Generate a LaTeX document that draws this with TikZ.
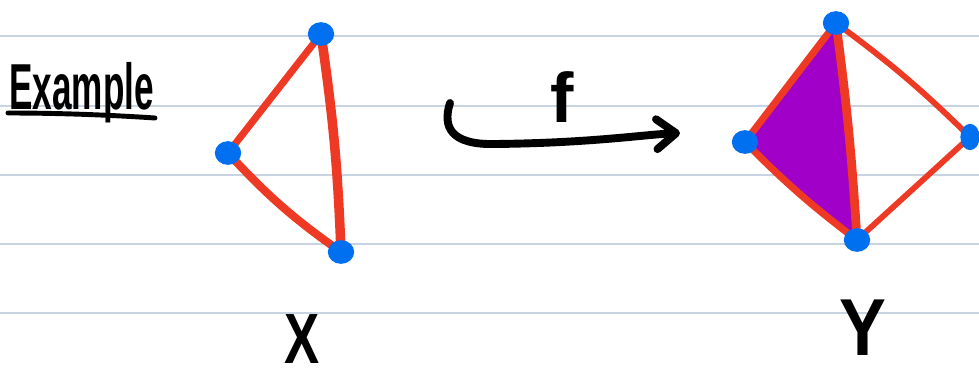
\documentclass[tikz,border=0pt]{standalone}
\usepackage{fontspec}
\setmainfont{Liberation Sans}
\usetikzlibrary{arrows.meta, shapes.geometric}
\definecolor{ruleline}{RGB}{200,212,226}
\definecolor{edgered}{RGB}{238,58,36}
\definecolor{dotblue}{RGB}{0,112,240}
\definecolor{fillpurple}{RGB}{160,0,200}
\tikzset{
  ruled/.style={ruleline, line width=0.9pt},
  edge/.style={edgered, line width=4pt, line cap=round},
  thinedge/.style={edgered, line width=3.3pt, line cap=round},
  vdot/.style={ellipse, fill=dotblue, inner sep=0pt, minimum width=15pt, minimum height=13.5pt},
  maparrow/.style={line width=4.5pt, line cap=round, -{Straight Barb[length=11pt, width=17pt, round]}},
  hand/.style={inner sep=0pt, font=\bfseries}
}

\begin{document}
\begin{tikzpicture}[x=0.02cm, y=-0.02cm]
  \useasboundingbox (0,0) rectangle (979,379);
  \clip (0,0) rectangle (979,379);

  % Ruled paper
  \foreach \yy in {36,106,175,244,313}
    \draw[ruled] (0,\yy) -- (979,\yy);

  % Heading
  \node[hand, anchor=base west] (title) at (9,109) {\scalebox{1}[1.85]{\fontsize{20}{24}\selectfont Example}};
  \draw[line width=2.8pt, line cap=round] (8,113) .. controls (60,113) and (110,115) .. (155,118);

  % Space X
  \coordinate (xa) at (321,34);
  \coordinate (xb) at (228,153);
  \coordinate (xc) at (341,252);
  \draw[edge] (xa) -- (xb);
  \draw[edge, line width=4.6pt] (xb) to[bend right=6] (xc);
  \draw[edge, line width=5.4pt] (xa) to[bend left=3] (xc);
  \node[vdot] (xadot) at (xa) {};
  \node[vdot] (xbdot) at (xb) {};
  \node[vdot] (xcdot) at (xc) {};
  \node[hand, anchor=north] (xlabel) at (302,314) {\scalebox{1}[1.35]{\fontsize{30}{34}\selectfont X}};

  % The map f
  \coordinate (fstart) at (450,103);
  \coordinate (fend) at (680,133);
  \draw[maparrow] (fstart) .. controls (442,128) and (452,145) .. (495,144)
    .. controls (590,143) and (640,135) .. (fend);
  \node[hand] (flabel) at (562,97) {\fontsize{40}{44}\selectfont f};

  % Space Y
  \coordinate (ya) at (836,23);
  \coordinate (yb) at (745,142);
  \coordinate (yc) at (857,240);
  \coordinate (yd) at (970,137);
  \fill[fillpurple] (ya) -- (yb) -- (yc) -- cycle;
  \draw[edge] (ya) -- (yb);
  \draw[edge] (yb) to[bend right=4] (yc);
  \draw[edge, line width=5pt] (ya) to[bend left=2] (yc);
  \draw[thinedge] (ya) to[bend left=4] (yd);
  \draw[thinedge] (yd) -- (yc);
  \node[vdot] (yadot) at (ya) {};
  \node[vdot] (ybdot) at (yb) {};
  \node[vdot] (ycdot) at (yc) {};
  \node[vdot, minimum width=11pt, minimum height=15pt] (yddot) at (yd) {};
  \node[hand, anchor=north] (ylabel) at (863,300) {\scalebox{1}[1.15]{\fontsize{40}{44}\selectfont Y}};
\end{tikzpicture}
\end{document}
